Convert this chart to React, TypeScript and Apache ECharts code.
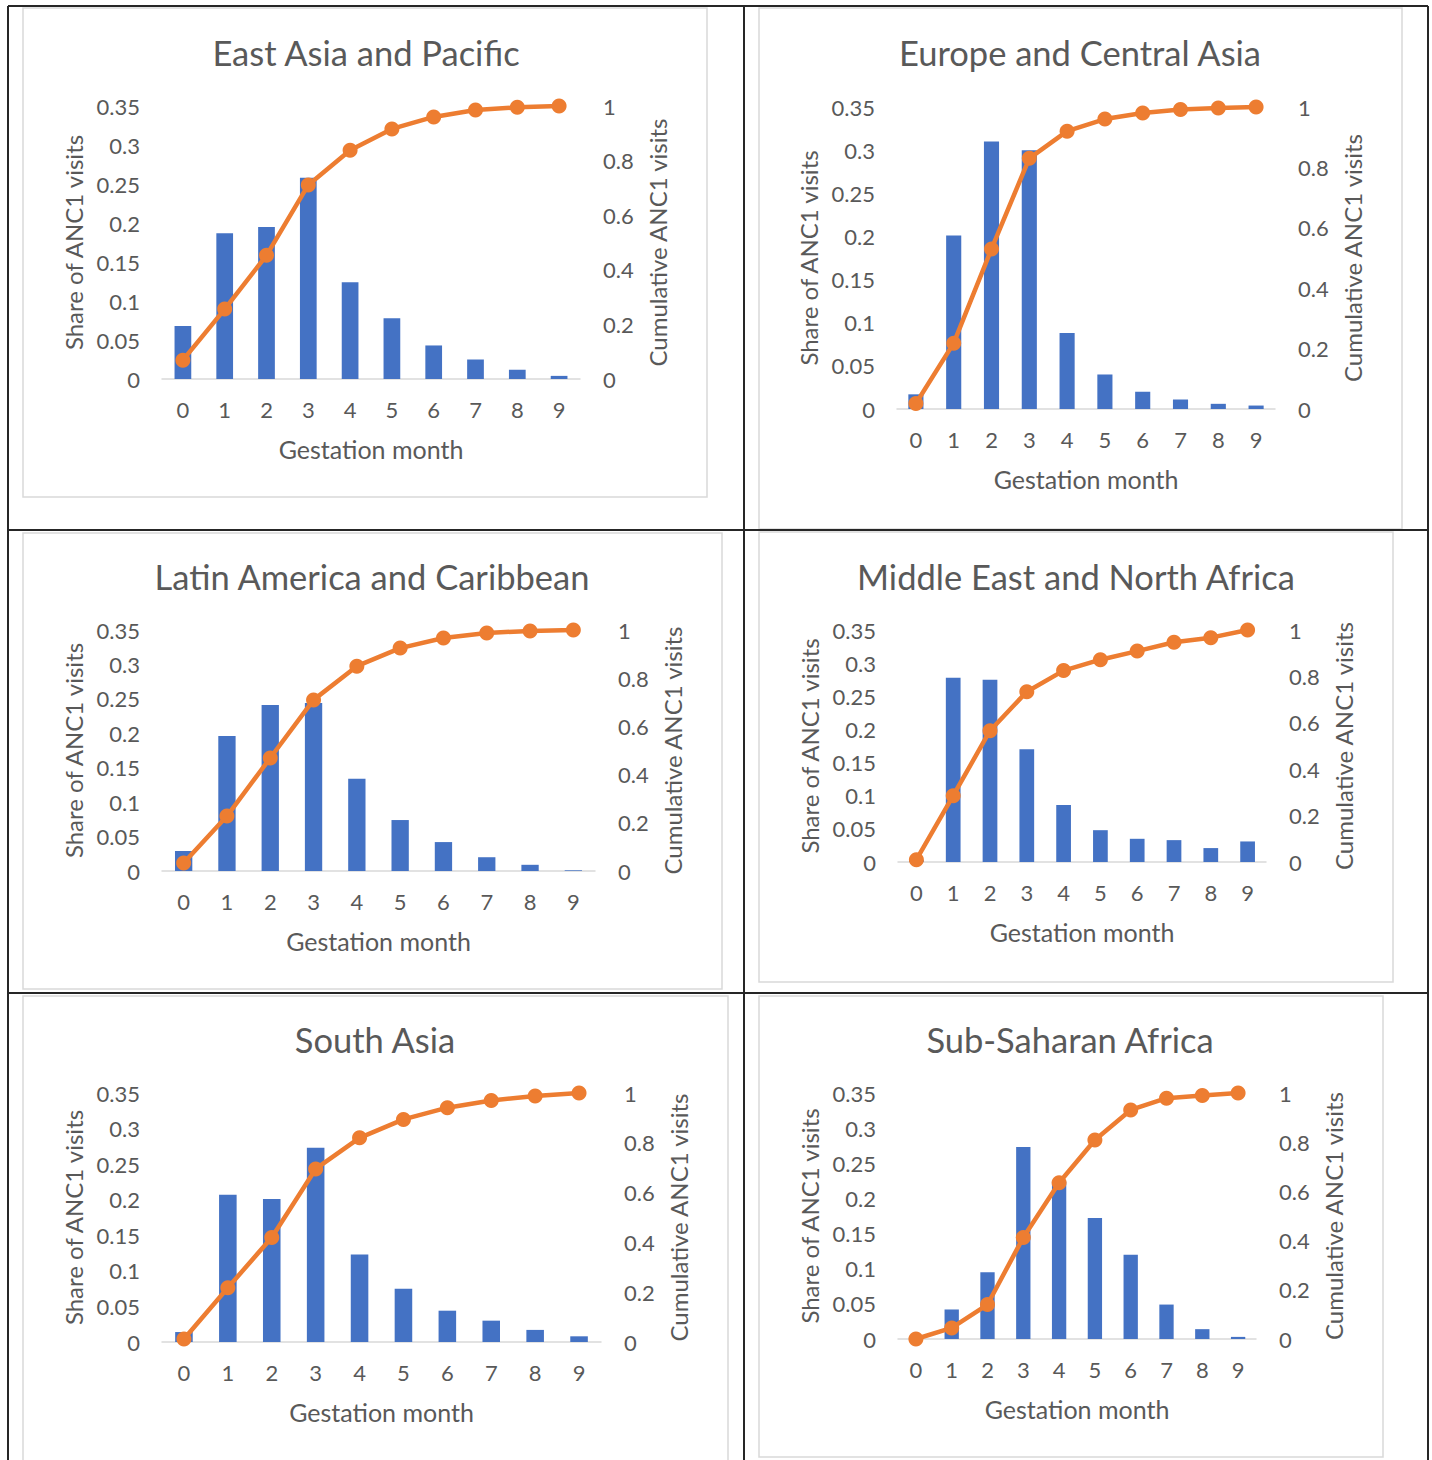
import React, { useEffect, useRef } from "react";
import * as echarts from "echarts";

// ---- data ----
const months = ["0", "1", "2", "3", "4", "5", "6", "7", "8", "9"];
const regionNames = [
  "East Asia and Pacific",
  "Europe and Central Asia",
  "Latin America and Caribbean",
  "Middle East and North Africa",
  "South Asia",
  "Sub-Saharan Africa",
];
const shareEAP = [0.068, 0.187, 0.195, 0.258, 0.124, 0.078, 0.043, 0.025, 0.012, 0.004];
const cumEAP = [0.069, 0.256, 0.453, 0.711, 0.838, 0.916, 0.96, 0.985, 0.995, 1.0];
const shareECA = [0.017, 0.201, 0.31, 0.3, 0.088, 0.04, 0.02, 0.011, 0.006, 0.004];
const cumECA = [0.018, 0.218, 0.53, 0.83, 0.92, 0.96, 0.98, 0.992, 0.997, 1.0];
const shareLAC = [0.029, 0.196, 0.241, 0.244, 0.134, 0.074, 0.042, 0.02, 0.009, 0.001];
const cumLAC = [0.033, 0.228, 0.469, 0.71, 0.85, 0.925, 0.967, 0.988, 0.996, 1.0];
const shareMENA = [0.003, 0.278, 0.275, 0.17, 0.086, 0.048, 0.035, 0.033, 0.021, 0.031];
const cumMENA = [0.01, 0.286, 0.566, 0.734, 0.825, 0.872, 0.909, 0.947, 0.967, 1.0];
const shareSA = [0.014, 0.207, 0.201, 0.273, 0.123, 0.075, 0.044, 0.03, 0.017, 0.008];
const cumSA = [0.012, 0.218, 0.42, 0.695, 0.82, 0.894, 0.941, 0.97, 0.988, 1.0];
const shareSSA = [0.0, 0.042, 0.095, 0.273, 0.224, 0.172, 0.12, 0.049, 0.014, 0.003];
const cumSSA = [0.0, 0.045, 0.14, 0.413, 0.635, 0.809, 0.931, 0.979, 0.99, 1.0];

const shares = [shareEAP, shareECA, shareLAC, shareMENA, shareSA, shareSSA];
const cums = [cumEAP, cumECA, cumLAC, cumMENA, cumSA, cumSSA];

const leftAxisName = "Share of ANC1 visits";
const rightAxisName = "Cumulative ANC1 visits";
const xAxisName = "Gestation month";

// ---- layout (pixels) ----
// plot area [left, top, right, bottom], title center [x, y], frame [x0, y0, x1, y1]
const panels = [
  { plot: [162, 106, 580, 379], title: [366, 52], frame: [23, 8, 707, 497] },
  { plot: [897, 107, 1275, 409], title: [1080, 52], frame: [759, 8, 1402, 529] },
  { plot: [162, 630, 595, 871], title: [372, 576], frame: [23, 533, 722, 989] },
  { plot: [898, 630, 1266, 862], title: [1076, 576], frame: [759, 532, 1393, 982] },
  { plot: [162, 1093, 601, 1342], title: [375, 1039], frame: [23, 996, 728, 1470] },
  { plot: [898, 1093, 1256, 1339], title: [1070, 1039], frame: [759, 996, 1383, 1457] },
];

const FONT = "Lato";
const TEXT = "#595959";
const GRID_LINE = "#D9D9D9";
const BLUE = "#4472C4";
const ORANGE = "#ED7D31";

export default function App() {
  const ref = useRef<HTMLDivElement>(null);
  useEffect(() => {
    document.body.style.margin = "0";
    if (!ref.current) return;
    const chart = echarts.init(ref.current, null, { renderer: "svg" });

    const grids = panels.map((p) => ({
      left: p.plot[0],
      top: p.plot[1],
      width: p.plot[2] - p.plot[0],
      height: p.plot[3] - p.plot[1],
    }));

    const xAxes = panels.map((_, i) => ({
      type: "category",
      gridIndex: i,
      data: months,
      axisLine: { show: true, lineStyle: { color: GRID_LINE, width: 1.5 } },
      axisTick: { show: false },
      axisLabel: { color: TEXT, fontSize: 22, margin: 19, fontFamily: FONT },
      name: xAxisName,
      nameLocation: "middle",
      nameGap: 57,
      nameTextStyle: { color: TEXT, fontSize: 25, fontFamily: FONT },
    }));

    const yAxes: any[] = [];
    panels.forEach((_, i) => {
      yAxes.push({
        type: "value",
        gridIndex: i,
        position: "left",
        min: 0,
        max: 0.35,
        interval: 0.05,
        splitLine: { show: false },
        axisLine: { show: false },
        axisTick: { show: false },
        axisLabel: { color: TEXT, fontSize: 22, margin: 22, fontFamily: FONT },
        name: leftAxisName,
        nameLocation: "middle",
        nameRotate: 90,
        nameGap: 77,
        nameTextStyle: { color: TEXT, fontSize: 24, fontFamily: FONT },
      });
      yAxes.push({
        type: "value",
        gridIndex: i,
        position: "right",
        min: 0,
        max: 1,
        interval: 0.2,
        splitLine: { show: false },
        axisLine: { show: false },
        axisTick: { show: false },
        axisLabel: { color: TEXT, fontSize: 22, margin: 23, fontFamily: FONT },
        name: rightAxisName,
        nameLocation: "middle",
        nameRotate: 90,
        nameGap: 65,
        nameTextStyle: { color: TEXT, fontSize: 24, fontFamily: FONT },
      });
    });

    const series: any[] = [];
    panels.forEach((_, i) => {
      series.push({
        type: "bar",
        xAxisIndex: i,
        yAxisIndex: 2 * i,
        data: shares[i],
        barWidth: "40%",
        itemStyle: { color: BLUE },
      });
      series.push({
        type: "line",
        xAxisIndex: i,
        yAxisIndex: 2 * i + 1,
        data: cums[i],
        symbol: "circle",
        symbolSize: 15,
        lineStyle: { color: ORANGE, width: 4.5 },
        itemStyle: { color: ORANGE },
        z: 3,
      });
    });

    const graphics: any[] = [];
    panels.forEach((p, i) => {
      graphics.push({
        type: "rect",
        shape: { x: p.frame[0], y: p.frame[1], width: p.frame[2] - p.frame[0], height: p.frame[3] - p.frame[1] },
        style: { fill: "none", stroke: GRID_LINE, lineWidth: 1.5 },
        silent: true,
        z: -1,
      });
      graphics.push({
        type: "text",
        x: p.title[0],
        y: p.title[1],
        style: {
          text: regionNames[i],
          fill: TEXT,
          fontSize: 34.5,
          fontFamily: FONT,
          textAlign: "center",
          textVerticalAlign: "middle",
        },
        silent: true,
      });
    });
    const tableLines = [
      [8, 6, 1428, 6],
      [8, 6, 8, 1460],
      [1428, 6, 1428, 1460],
      [744, 6, 744, 1460],
      [8, 530, 1428, 530],
      [8, 993, 1428, 993],
    ];
    tableLines.forEach((l) => {
      graphics.push({
        type: "line",
        shape: { x1: l[0], y1: l[1], x2: l[2], y2: l[3] },
        style: { stroke: "#262626", lineWidth: 2 },
        silent: true,
        z: 10,
      });
    });

    chart.setOption({
      animation: false,
      backgroundColor: "#ffffff",
      grid: grids,
      xAxis: xAxes,
      yAxis: yAxes,
      series,
      graphic: graphics,
    });
    return () => chart.dispose();
  }, []);
  return <div ref={ref} style={{ width: 1432, height: 1460 }} />;
}
